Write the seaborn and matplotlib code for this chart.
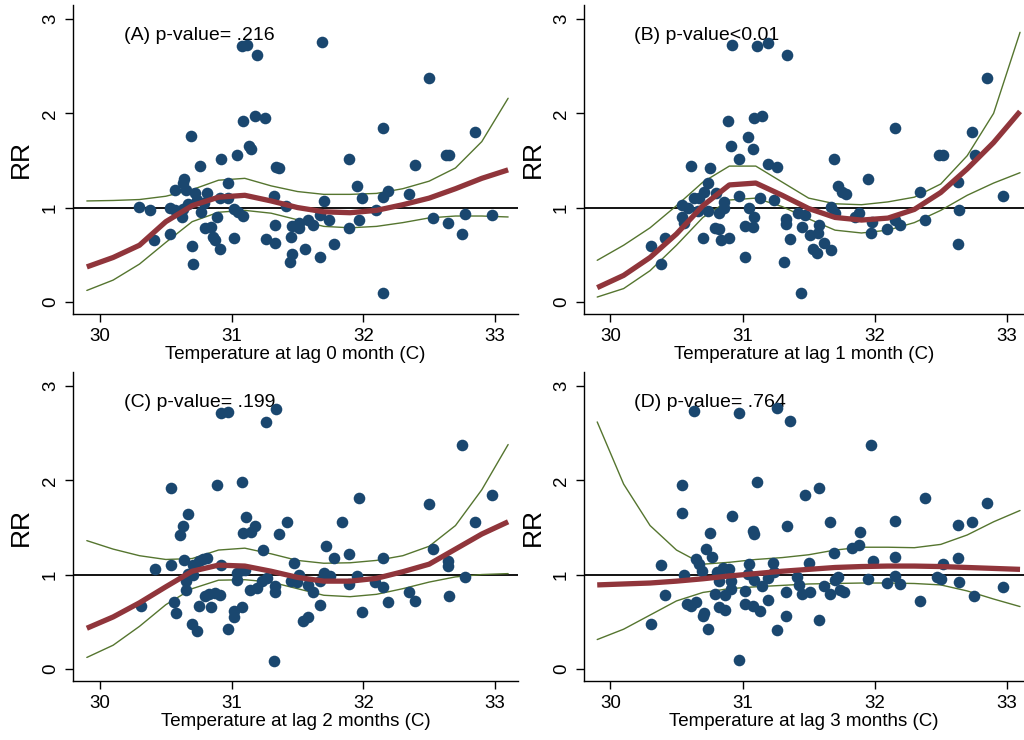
import numpy as np
import pandas as pd
import matplotlib
matplotlib.use("Agg")
import matplotlib.pyplot as plt
import seaborn as sns

# ------------ scatter points (RR by temperature) ------------

a_x = [31.08, 31.12, 31.19, 31.69, 32.50, 31.18, 31.25, 31.09, 32.15, 30.69,
       32.85, 31.13, 31.15, 30.92, 31.04, 32.63, 32.65, 31.89, 30.76, 31.34,
       31.36, 32.39, 30.64, 30.63, 30.97, 30.57, 30.65, 31.95, 32.19, 30.72,
       30.81, 32.35, 31.32, 30.91, 30.97, 30.74, 31.99, 32.15, 31.70, 30.67,
       30.79, 30.30, 30.38, 30.53, 30.57, 30.63, 31.41, 31.02, 31.05, 31.09,
       30.77, 30.62, 30.89, 31.67, 31.74, 32.10, 31.97, 32.53, 32.64, 32.77,
       32.98, 32.75, 31.33, 31.46, 31.51, 31.58, 31.62, 31.51, 30.80, 30.84,
       30.86, 30.87, 30.41, 30.53, 31.02, 31.26, 31.33, 31.45, 31.89, 31.78,
       30.70, 30.91, 31.56, 31.46, 31.67, 31.44, 30.71, 32.15]
a_y = [2.71, 2.73, 2.62, 2.76, 2.38, 1.97, 1.95, 1.92, 1.84, 1.76,
       1.80, 1.65, 1.62, 1.52, 1.56, 1.56, 1.56, 1.52, 1.44, 1.43,
       1.42, 1.45, 1.30, 1.26, 1.26, 1.19, 1.19, 1.23, 1.18, 1.15,
       1.15, 1.14, 1.12, 1.10, 1.10, 1.08, 1.10, 1.11, 1.07, 1.04,
       1.05, 1.01, 0.97, 1.00, 0.97, 0.98, 1.02, 0.98, 0.95, 0.91,
       0.95, 0.90, 0.90, 0.92, 0.87, 0.97, 0.87, 0.89, 0.84, 0.93,
       0.92, 0.72, 0.82, 0.80, 0.84, 0.87, 0.81, 0.78, 0.78, 0.79,
       0.69, 0.66, 0.66, 0.72, 0.68, 0.67, 0.62, 0.69, 0.78, 0.61,
       0.59, 0.56, 0.56, 0.51, 0.47, 0.42, 0.40, 0.09]

b_x = [30.92, 31.11, 31.19, 31.34, 32.85, 30.89, 31.09, 31.15, 32.15, 32.74,
       31.04, 30.91, 31.08, 30.97, 32.49, 32.52, 32.76, 31.69, 30.61, 30.75,
       31.19, 31.26, 31.95, 30.74, 31.72, 31.75, 31.78, 32.34, 32.63, 32.97,
       30.63, 30.67, 30.71, 30.80, 30.97, 31.13, 31.24, 30.54, 30.59, 30.86,
       30.86, 30.66, 30.74, 30.82, 31.05, 31.67, 31.42, 31.47, 31.70, 31.88,
       31.85, 32.64, 30.54, 30.56, 31.09, 31.33, 31.33, 31.98, 32.15, 32.19,
       32.38, 31.02, 31.08, 30.79, 30.82, 31.45, 31.51, 31.58, 31.57, 31.97,
       32.09, 30.41, 30.70, 30.84, 30.90, 31.36, 31.62, 31.53, 31.56, 31.67,
       30.31, 32.63, 30.38, 31.02, 31.31, 31.44]
b_y = [2.73, 2.71, 2.75, 2.62, 2.38, 1.92, 1.95, 1.97, 1.84, 1.80,
       1.75, 1.65, 1.62, 1.52, 1.56, 1.56, 1.56, 1.52, 1.44, 1.42,
       1.46, 1.43, 1.30, 1.26, 1.23, 1.17, 1.14, 1.17, 1.27, 1.12,
       1.10, 1.10, 1.16, 1.15, 1.12, 1.10, 1.08, 1.03, 1.00, 1.06,
       0.99, 0.96, 0.96, 0.94, 1.00, 1.01, 0.94, 0.92, 0.94, 0.94,
       0.90, 0.97, 0.90, 0.84, 0.90, 0.88, 0.83, 0.85, 0.87, 0.81,
       0.87, 0.80, 0.79, 0.78, 0.77, 0.79, 0.71, 0.81, 0.73, 0.73,
       0.77, 0.68, 0.68, 0.66, 0.68, 0.67, 0.62, 0.56, 0.52, 0.55,
       0.59, 0.61, 0.40, 0.47, 0.42, 0.09]

c_x = [30.92, 30.97, 31.34, 31.26, 32.75, 30.54, 30.89, 31.08, 31.97, 32.98,
       30.67, 31.11, 30.63, 31.18, 31.42, 31.84, 32.50, 32.85, 30.61, 31.09,
       31.15, 31.36, 31.24, 31.72, 31.78, 31.89, 32.15, 32.53, 30.42, 30.54,
       30.64, 30.71, 30.75, 30.78, 30.81, 30.92, 31.47, 32.64, 32.64, 30.67,
       30.71, 31.04, 31.08, 31.10, 31.51, 31.70, 31.75, 31.95, 30.65, 31.04,
       31.27, 31.23, 31.45, 31.50, 31.67, 31.89, 32.09, 32.15, 32.77, 30.65,
       31.14, 31.19, 31.33, 31.33, 31.58, 31.62, 30.80, 30.83, 30.87, 30.91,
       32.35, 32.65, 30.56, 30.31, 30.75, 30.84, 31.08, 32.19, 32.39, 31.67,
       30.58, 31.02, 31.02, 31.99, 31.54, 31.58, 30.70, 30.74, 30.97, 31.32]
c_y = [2.71, 2.73, 2.76, 2.62, 2.38, 1.92, 1.95, 1.98, 1.81, 1.84,
       1.64, 1.61, 1.52, 1.52, 1.56, 1.56, 1.75, 1.56, 1.42, 1.44,
       1.45, 1.43, 1.26, 1.30, 1.18, 1.22, 1.18, 1.27, 1.06, 1.10,
       1.15, 1.10, 1.14, 1.16, 1.18, 1.10, 1.12, 1.14, 1.09, 1.01,
       1.00, 1.02, 1.05, 1.05, 0.99, 1.02, 0.98, 0.98, 0.93, 0.94,
       0.96, 0.93, 0.93, 0.92, 0.93, 0.90, 0.92, 0.87, 0.97, 0.84,
       0.84, 0.86, 0.88, 0.82, 0.89, 0.82, 0.77, 0.79, 0.80, 0.78,
       0.81, 0.77, 0.71, 0.67, 0.67, 0.66, 0.66, 0.71, 0.72, 0.68,
       0.59, 0.61, 0.55, 0.60, 0.51, 0.55, 0.47, 0.40, 0.42, 0.08]

d_x = [30.63, 30.97, 31.26, 31.36, 31.97, 30.54, 31.11, 31.47, 31.58, 32.38,
       32.85, 30.54, 30.92, 31.34, 31.66, 32.15, 32.63, 32.74, 30.75, 31.08,
       31.09, 31.89, 30.72, 30.77, 31.88, 31.83, 31.69, 30.65, 30.38, 30.67,
       31.05, 31.23, 31.50, 31.99, 32.15, 32.52, 32.63, 30.56, 30.69, 30.81,
       30.85, 30.90, 31.04, 31.24, 30.82, 30.91, 31.09, 31.19, 31.41, 31.72,
       31.70, 31.95, 32.15, 32.47, 32.50, 32.64, 30.91, 31.02, 31.15, 31.43,
       31.62, 31.74, 31.77, 32.09, 32.19, 32.97, 30.41, 30.79, 30.87, 31.33,
       31.45, 31.51, 31.66, 32.75, 30.58, 30.61, 30.65, 30.82, 30.87, 31.02,
       31.08, 31.13, 31.19, 32.34, 30.70, 30.71, 31.33, 31.58, 30.31, 30.74,
       31.26, 30.97]
d_y = [2.74, 2.72, 2.77, 2.63, 2.38, 1.95, 1.98, 1.84, 1.92, 1.81,
       1.76, 1.65, 1.62, 1.52, 1.56, 1.57, 1.53, 1.56, 1.44, 1.46,
       1.43, 1.45, 1.27, 1.19, 1.31, 1.28, 1.23, 1.16, 1.10, 1.11,
       1.11, 1.12, 1.12, 1.14, 1.19, 1.11, 1.18, 0.99, 1.04, 1.03,
       1.07, 1.06, 1.01, 1.03, 0.93, 0.93, 0.94, 0.96, 0.97, 0.97,
       0.94, 0.95, 0.98, 0.97, 0.95, 0.92, 0.85, 0.83, 0.88, 0.89,
       0.88, 0.84, 0.82, 0.91, 0.90, 0.87, 0.78, 0.79, 0.78, 0.82,
       0.79, 0.81, 0.79, 0.77, 0.69, 0.67, 0.71, 0.66, 0.62, 0.69,
       0.67, 0.61, 0.73, 0.72, 0.56, 0.59, 0.56, 0.52, 0.48, 0.42,
       0.41, 0.09]

# ------------ fitted RR curve and 95% CI ------------

grid_x = [29.9, 30.1, 30.3, 30.5, 30.7, 30.9, 31.1, 31.3, 31.5,
          31.7, 31.9, 32.1, 32.3, 32.5, 32.7, 32.9, 33.1]

a_fit = [0.37, 0.47, 0.60, 0.85, 1.02, 1.11, 1.13, 1.07, 1.00, 0.955, 0.945, 0.97, 1.03, 1.10, 1.20, 1.31, 1.40]
a_lo = [0.12, 0.23, 0.40, 0.63, 0.85, 0.95, 0.97, 0.94, 0.87, 0.80, 0.785, 0.80, 0.84, 0.89, 0.91, 0.91, 0.90]
a_hi = [1.07, 1.075, 1.085, 1.12, 1.19, 1.29, 1.31, 1.23, 1.17, 1.14, 1.14, 1.15, 1.20, 1.28, 1.42, 1.70, 2.16]

b_fit = [0.15, 0.28, 0.47, 0.72, 1.02, 1.24, 1.26, 1.13, 0.99, 0.895, 0.867, 0.888, 0.98, 1.16, 1.41, 1.69, 2.02]
b_lo = [0.05, 0.14, 0.33, 0.60, 0.895, 1.08, 1.10, 1.01, 0.88, 0.76, 0.73, 0.76, 0.84, 0.97, 1.13, 1.26, 1.37]
b_hi = [0.44, 0.60, 0.785, 1.02, 1.27, 1.44, 1.44, 1.27, 1.10, 1.04, 1.03, 1.06, 1.11, 1.25, 1.55, 2.00, 2.86]

c_fit = [0.43, 0.55, 0.70, 0.87, 1.035, 1.10, 1.09, 1.035, 0.97, 0.93, 0.93, 0.96, 1.03, 1.11, 1.27, 1.43, 1.56]
c_lo = [0.12, 0.25, 0.45, 0.68, 0.85, 0.94, 0.945, 0.92, 0.85, 0.78, 0.765, 0.79, 0.85, 0.92, 0.975, 1.00, 1.01]
c_hi = [1.36, 1.27, 1.20, 1.16, 1.17, 1.26, 1.28, 1.22, 1.15, 1.12, 1.125, 1.15, 1.20, 1.30, 1.52, 1.90, 2.38]

d_fit = [0.89, 0.90, 0.91, 0.93, 0.955, 0.985, 1.01, 1.035, 1.055, 1.075, 1.085, 1.09, 1.09, 1.085, 1.075, 1.065, 1.055]
d_lo = [0.31, 0.42, 0.57, 0.72, 0.81, 0.85, 0.87, 0.885, 0.90, 0.905, 0.91, 0.91, 0.905, 0.89, 0.826, 0.74, 0.66]
d_hi = [2.62, 1.96, 1.52, 1.26, 1.11, 1.13, 1.16, 1.18, 1.21, 1.26, 1.29, 1.29, 1.285, 1.32, 1.42, 1.56, 1.68]

p_texts = ["(A) p-value= .216", "(B) p-value<0.01", "(C) p-value= .199", "(D) p-value= .764"]
x_labels = ["Temperature at lag 0 month (C)", "Temperature at lag 1 month (C)",
            "Temperature at lag 2 months (C)", "Temperature at lag 3 months (C)"]

#------------ style ------------

sns.set_theme(style="ticks")
plt.rcParams['font.family'] = ['Liberation Sans', 'DejaVu Sans']
plt.rcParams['text.color'] = 'black'
plt.rcParams['axes.labelcolor'] = 'black'
plt.rcParams['xtick.color'] = 'black'
plt.rcParams['ytick.color'] = 'black'

navy = "#1a476f"
maroon = "#90353b"
green = "#55752f"

fig = plt.figure(figsize=(10.24, 7.4), dpi=100)

# axes boxes in pixels: left, right, top, bottom
boxes = [(73, 518, 5, 314), (584, 1024, 5, 314),
         (73, 518, 372, 681), (584, 1024, 372, 681)]
xlims = [(29.795, 33.175), (29.80, 33.13), (29.795, 33.175), (29.80, 33.13)]

panels = [(a_x, a_y, a_fit, a_lo, a_hi),
          (b_x, b_y, b_fit, b_lo, b_hi),
          (c_x, c_y, c_fit, c_lo, c_hi),
          (d_x, d_y, d_fit, d_lo, d_hi)]

for i, (px, py, fit, lo, hi) in enumerate(panels):
    l, r, t, b = boxes[i]
    ax = fig.add_axes([l / 1024, (740 - b) / 740, (r - l) / 1024, (b - t) / 740])

    ax.axhline(1, color="black", lw=1.3, zorder=1)

    curves = pd.DataFrame({"x": grid_x, "fit": fit, "lo": lo, "hi": hi})
    sns.lineplot(data=curves, x="x", y="lo", ax=ax, color=green, lw=1.0, zorder=2)
    sns.lineplot(data=curves, x="x", y="hi", ax=ax, color=green, lw=1.0, zorder=2)

    pts = pd.DataFrame({"temp": px, "rr": py})
    sns.scatterplot(data=pts, x="temp", y="rr", ax=ax, color=navy, s=70,
                    linewidth=0, zorder=3)

    sns.lineplot(data=curves, x="x", y="fit", ax=ax, color=maroon, lw=3.8,
                 zorder=4, solid_capstyle="butt")

    ax.text(30.18, 2.83, p_texts[i], fontsize=14, va="center", ha="left",
            color="black", zorder=0)

    ax.set_xlim(*xlims[i])
    ax.set_ylim(-0.13, 3.15)
    ax.set_xticks([30, 31, 32, 33])
    ax.set_yticks([0, 1, 2, 3])
    ax.tick_params(axis="both", direction="out", length=6, width=1,
                   color="black", labelcolor="black", labelsize=13.5, pad=4)
    ax.tick_params(axis="y", labelrotation=90)
    for lab in ax.get_yticklabels():
        lab.set_va("center")

    ax.set_xlabel(x_labels[i], fontsize=13.5, labelpad=1, color="black")
    ax.set_ylabel("RR", fontsize=19, color="black")
    ax.yaxis.set_label_coords(-0.09, 0.5)

    sns.despine(ax=ax)
    for s in ["left", "bottom"]:
        ax.spines[s].set_color("black")
        ax.spines[s].set_linewidth(1)

fig.savefig("out.png", dpi=100, facecolor="white")
